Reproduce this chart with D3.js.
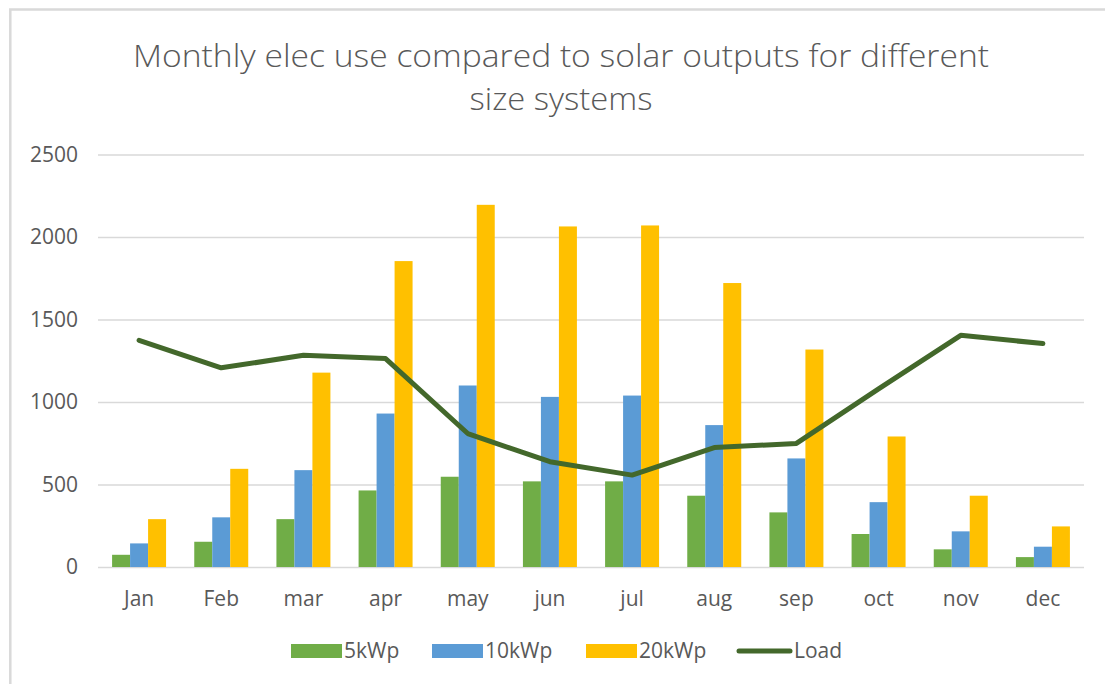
<!DOCTYPE html>
<html>
<head>
<meta charset="utf-8">
<script src="https://cdn.jsdelivr.net/npm/d3@7/dist/d3.min.js"></script>
<style>
  html, body { margin: 0; padding: 0; background: #ffffff; }
  svg { display: block; }
  text { font-family: "Open Sans", "DejaVu Sans", sans-serif; fill: #595959; }
</style>
</head>
<body>
<svg id="chart" width="1105" height="684"></svg>
<script>
// Monthly categories
const months = ["Jan", "Feb", "mar", "apr", "may", "jun", "jul", "aug", "sep", "oct", "nov", "dec"];

// Solar generation per system size (kWh)
const kwp5  = [74, 153, 290, 464, 547, 519, 519, 432, 331, 200, 107, 60];
const kwp10 = [143, 301, 587, 930, 1100, 1031, 1039, 860, 658, 393, 216, 123];
const kwp20 = [290, 595, 1178, 1854, 2195, 2064, 2070, 1721, 1318, 791, 432, 246];

// Household consumption (kWh)
const load = [1374, 1207, 1283, 1263, 809, 638, 557, 724, 749, 1080, 1404, 1354];

const yTicks = [0, 500, 1000, 1500, 2000, 2500];

const seriesNames = ["5kWp", "10kWp", "20kWp"];
const seriesColors = ["#70AD47", "#5B9BD5", "#FFC000"];
const loadName = "Load";
const loadColor = "#43682B";
const titleLines = ["Monthly elec use compared to solar outputs for different", "size systems"];

const svg = d3.select("#chart");

// Chart frame (only the top and left edges fall inside the view)
svg.append("rect")
  .attr("x", 10.3).attr("y", 9.5)
  .attr("width", 1200).attr("height", 800)
  .attr("fill", "#ffffff")
  .attr("stroke", "#d9d9d9").attr("stroke-width", 2.5);

const plot = { left: 98, right: 1084, top: 154.5, bottom: 567 };

const y = d3.scaleLinear().domain([0, 2500]).range([plot.bottom, plot.top]);
const x0 = d3.scaleBand().domain(months).range([plot.left, plot.right])
  .paddingInner(0.343).paddingOuter(0.1715);
const x1 = d3.scaleBand().domain(seriesNames).range([0, x0.bandwidth()]);

// Title
const title = svg.append("g");
title.append("text")
  .attr("x", 561).attr("y", 67)
  .attr("text-anchor", "middle")
  .attr("font-size", 32).attr("font-weight", 300)
  .attr("textLength", 856).attr("lengthAdjust", "spacingAndGlyphs")
  .text(titleLines[0]);
title.append("text")
  .attr("x", 561).attr("y", 110)
  .attr("text-anchor", "middle")
  .attr("font-size", 32).attr("font-weight", 300)
  .attr("textLength", 183).attr("lengthAdjust", "spacingAndGlyphs")
  .text(titleLines[1]);

// Gridlines and value axis labels
const yAxis = d3.axisLeft(y).tickValues(yTicks).tickFormat(d3.format("d"))
  .tickSize(-(plot.right - plot.left)).tickPadding(20);
const yg = svg.append("g").attr("transform", `translate(${plot.left},0)`).call(yAxis);
yg.select(".domain").remove();
yg.selectAll(".tick line").attr("stroke", "#d9d9d9").attr("stroke-width", 1.6);
yg.selectAll(".tick text")
  .attr("font-size", 21).attr("fill", "#595959")
  .attr("font-family", "'Open Sans', sans-serif");

// Category axis labels
const xAxis = d3.axisBottom(x0).tickSize(0).tickPadding(24);
const xg = svg.append("g").attr("transform", `translate(0,${plot.bottom})`).call(xAxis);
xg.select(".domain").remove();
xg.selectAll(".tick text")
  .attr("font-size", 21).attr("fill", "#595959")
  .attr("font-family", "'Open Sans', sans-serif");

// Clustered bars
const rows = months.map((m, i) => ({ month: m, values: [kwp5[i], kwp10[i], kwp20[i]] }));
const groups = svg.append("g").selectAll("g").data(rows).join("g")
  .attr("transform", d => `translate(${x0(d.month)},0)`);
groups.selectAll("rect")
  .data(d => d.values.map((v, k) => ({ key: seriesNames[k], value: v, color: seriesColors[k] })))
  .join("rect")
  .attr("x", d => x1(d.key))
  .attr("y", d => y(d.value))
  .attr("width", x1.bandwidth())
  .attr("height", d => y(0) - y(d.value))
  .attr("fill", d => d.color);

// Load line
const line = d3.line()
  .x((d, i) => x0(months[i]) + x0.bandwidth() / 2)
  .y(d => y(d));
svg.append("path")
  .datum(load)
  .attr("d", line)
  .attr("fill", "none")
  .attr("stroke", loadColor)
  .attr("stroke-width", 5)
  .attr("stroke-linejoin", "round")
  .attr("stroke-linecap", "round");

// Legend
const legendY = 651;
const legendItems = [
  { name: seriesNames[0], color: seriesColors[0], type: "bar", x: 291 },
  { name: seriesNames[1], color: seriesColors[1], type: "bar", x: 432 },
  { name: seriesNames[2], color: seriesColors[2], type: "bar", x: 586 },
  { name: loadName, color: loadColor, type: "line", x: 736 }
];
const lg = svg.append("g").selectAll("g").data(legendItems).join("g")
  .attr("transform", d => `translate(${d.x},${legendY})`);
lg.filter(d => d.type === "bar").append("rect")
  .attr("x", 0).attr("y", -7).attr("width", 51).attr("height", 14)
  .attr("fill", d => d.color);
lg.filter(d => d.type === "line").append("line")
  .attr("x1", 3).attr("x2", 54).attr("y1", 0).attr("y2", 0)
  .attr("stroke", d => d.color).attr("stroke-width", 5)
  .attr("stroke-linecap", "round");
lg.append("text")
  .attr("x", d => d.type === "bar" ? 53 : 58)
  .attr("y", 0).attr("dy", "0.35em")
  .attr("font-size", 21)
  .text(d => d.name);
</script>
</body>
</html>
